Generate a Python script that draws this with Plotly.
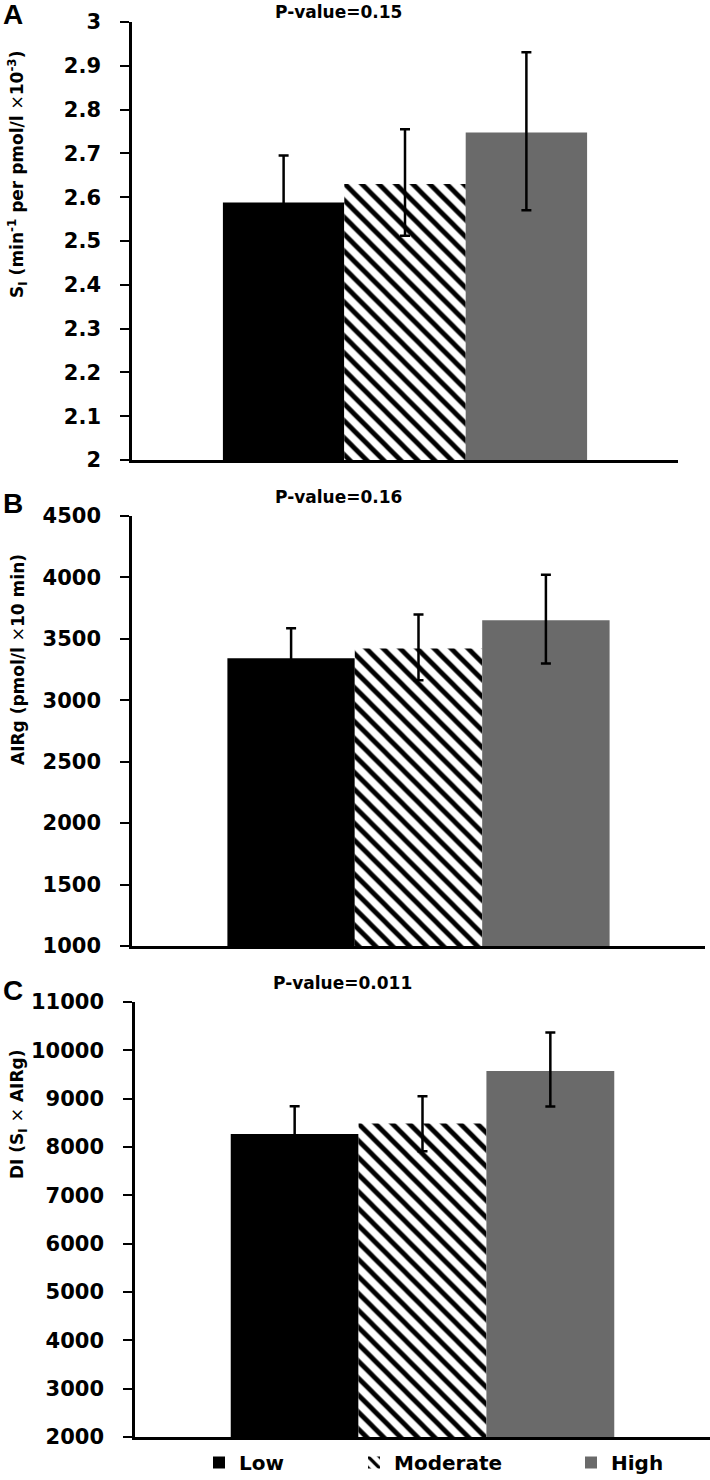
import plotly.graph_objects as go

# ---------------- data ----------------
groups = ["Low", "Moderate", "High"]

# Panel A: S_I
si_values = [2.588, 2.630, 2.748]
si_err_plus = [0.107, 0.125, 0.183]
si_err_minus = [0.107, 0.118, 0.178]
si_ticks = [2.0, 2.1, 2.2, 2.3, 2.4, 2.5, 2.6, 2.7, 2.8, 2.9, 3.0]
si_ticktext = ["2", "2.1", "2.2", "2.3", "2.4", "2.5", "2.6", "2.7", "2.8", "2.9", "3"]

# Panel B: AIRg
airg_values = [3343, 3422, 3652]
airg_err_plus = [244, 277, 369]
airg_err_minus = [244, 258, 352]
airg_ticks = [1000, 1500, 2000, 2500, 3000, 3500, 4000, 4500]
airg_ticktext = ["1000", "1500", "2000", "2500", "3000", "3500", "4000", "4500"]

# Panel C: DI
di_values = [8271, 8486, 9574]
di_err_plus = [573, 564, 793]
di_err_minus = [573, 573, 737]
di_ticks = [2000, 3000, 4000, 5000, 6000, 7000, 8000, 9000, 10000, 11000]
di_ticktext = ["2000", "3000", "4000", "5000", "6000", "7000", "8000", "9000", "10000", "11000"]

p_values = ["P-value=0.15", "P-value=0.16", "P-value=0.011"]
panel_letters = ["A", "B", "C"]

# ---------------- styling ----------------
W, H = 710, 1480
FONT = "DejaVu Sans"
colors = ["#000000", "#ffffff", "#6a6a6a"]

def px_x(v):
    return v / W

def px_y(v):
    return 1 - v / H

panels = [
    dict(vals=si_values, ep=si_err_plus, em=si_err_minus, ticks=si_ticks, tt=si_ticktext,
         rng=[2.0, 3.0], xd=[132, 678], yd=[22, 460],
         title="S<sub>I</sub> (min<sup>-1</sup> per pmol/l <span style='font-weight:normal'>×</span>10<sup>-3</sup>)",
         title_y=175, letter_y=14, p_y=12, p_x=338),
    dict(vals=airg_values, ep=airg_err_plus, em=airg_err_minus, ticks=airg_ticks, tt=airg_ticktext,
         rng=[1000, 4500], xd=[132, 705], yd=[516, 946],
         title="AIRg (pmol/l <span style='font-weight:normal'>×</span>10 min)",
         title_y=660, letter_y=503, p_y=497, p_x=338),
    dict(vals=di_values, ep=di_err_plus, em=di_err_minus, ticks=di_ticks, tt=di_ticktext,
         rng=[2000, 11000], xd=[135, 710], yd=[1002, 1437],
         title="DI (S<sub>I</sub> <span style='font-weight:normal'>×</span> AIRg)",
         title_y=1115, letter_y=990, p_y=983, p_x=342),
]

fig = go.Figure()
annotations = []
layout_axes = {}

for pi, pan in enumerate(panels):
    sfx = "" if pi == 0 else str(pi + 1)
    xa, ya = "x" + sfx, "y" + sfx
    for gi, g in enumerate(groups):
        marker = dict(color=colors[gi], line=dict(width=0))
        if gi == 1:
            marker["pattern"] = dict(shape="\\", size=12, solidity=0.4,
                                     fgcolor="black", bgcolor="white", fillmode="replace")
        fig.add_trace(go.Bar(
            x=[""], y=[pan["vals"][gi]], name=g, xaxis=xa, yaxis=ya,
            marker=marker,
            error_y=dict(type="data", symmetric=False, array=[pan["ep"][gi]],
                         arrayminus=[pan["em"][gi]], color="black", thickness=2.5, width=5),
            showlegend=(pi == 0),
            legend=["legend", "legend2", "legend3"][gi],
            hoverinfo="skip",
        ))
    layout_axes["xaxis" + sfx] = dict(
        domain=[px_x(pan["xd"][0]), px_x(pan["xd"][1])], anchor=ya,
        showticklabels=False, ticks="", showline=True, linecolor="black", linewidth=2.5,
        showgrid=False, zeroline=False, fixedrange=True, automargin=False,
    )
    layout_axes["yaxis" + sfx] = dict(
        domain=[px_y(pan["yd"][1]), px_y(pan["yd"][0])], anchor=xa,
        range=pan["rng"], tickvals=pan["ticks"], ticktext=pan["tt"],
        ticks="outside", ticklen=9, tickwidth=2, tickcolor="black",
        showline=True, linecolor="black", linewidth=2.5, showgrid=False, zeroline=False,
        tickfont=dict(family=FONT, size=21, color="black", weight="bold"),
        ticklabelstandoff=15, automargin=False, fixedrange=True,
    )
    annotations.append(dict(text=pan["title"], textangle=-90, x=px_x(18), y=px_y(pan["title_y"]),
                            xref="paper", yref="paper", showarrow=False, xanchor="center", yanchor="middle",
                            font=dict(family=FONT, size=17, color="black", weight="bold")))
    annotations.append(dict(text=panel_letters[pi], x=px_x(1), y=px_y(pan["letter_y"]),
                            xref="paper", yref="paper", showarrow=False, xanchor="left", yanchor="middle",
                            font=dict(family="Liberation Sans", size=28, color="black", weight="bold")))
    annotations.append(dict(text=p_values[pi], x=px_x(pan["p_x"]), y=px_y(pan["p_y"]),
                            xref="paper", yref="paper", showarrow=False, xanchor="center", yanchor="middle",
                            font=dict(family=FONT, size=17, color="black", weight="bold")))

legend_font = dict(family=FONT, size=20, color="black", weight="bold")
legend_x = [199, 354, 571]
legends = {}
for li, name in enumerate(["legend", "legend2", "legend3"]):
    legends[name] = dict(x=px_x(legend_x[li]), y=px_y(1443), xanchor="left", yanchor="top",
                         orientation="h", font=legend_font, bgcolor="rgba(0,0,0,0)",
                         itemclick=False, itemdoubleclick=False)

fig.update_layout(
    template="none",
    width=W, height=H, margin=dict(l=0, r=0, t=0, b=0, autoexpand=False),
    paper_bgcolor="white", plot_bgcolor="white",
    barmode="group", bargap=0.333, bargroupgap=0,
    annotations=annotations, showlegend=True, hovermode=False,
    **layout_axes, **legends,
)

fig.write_html("out.html", config={"displayModeBar": False, "staticPlot": False},
               post_script="document.body.style.margin='0';document.body.style.overflow='hidden';")
